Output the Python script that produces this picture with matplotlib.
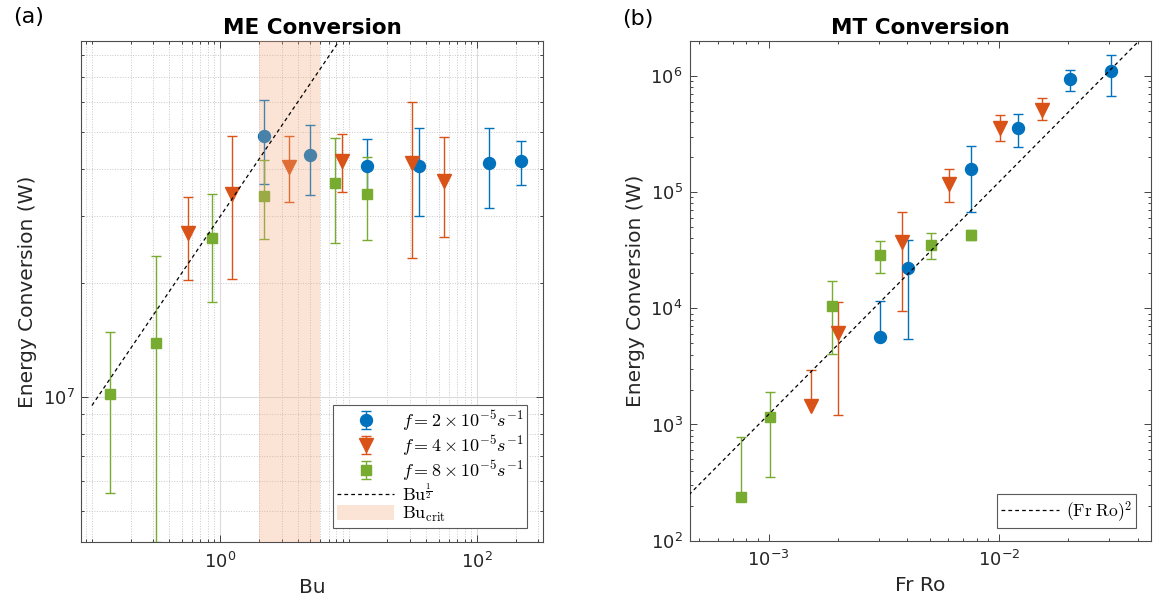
import numpy as np
import matplotlib
matplotlib.use("Agg")
import matplotlib.pyplot as plt
from matplotlib.font_manager import FontProperties
from matplotlib.ticker import FixedLocator, LogLocator, NullFormatter

# ---- panel (a): ME conversion vs Bu (value, lower bound, upper bound) ----
me_bu_f2 = [2.2, 4.98, 13.8, 35.3, 124, 220]
me_e_f2 = [4.87e7, 4.34e7, 4.07e7, 4.07e7, 4.14e7, 4.2e7]
me_lo_f2 = [3.65e7, 3.42e7, 3.38e7, 3.0e7, 3.15e7, 3.63e7]
me_hi_f2 = [6.07e7, 5.23e7, 4.79e7, 5.14e7, 5.12e7, 4.75e7]

me_bu_f4 = [0.557, 1.24, 3.45, 8.85, 31.1, 55.0]
me_e_f4 = [2.71e7, 3.43e7, 4.05e7, 4.19e7, 4.14e7, 3.71e7]
me_lo_f4 = [2.03e7, 2.05e7, 3.27e7, 3.47e7, 2.32e7, 2.64e7]
me_hi_f4 = [3.37e7, 4.89e7, 4.89e7, 4.94e7, 5.99e7, 4.86e7]

me_bu_f8 = [0.138, 0.314, 0.863, 2.2, 7.8, 13.8]
me_e_f8 = [1.02e7, 1.39e7, 2.62e7, 3.40e7, 3.66e7, 3.44e7]
me_lo_f8 = [5.58e6, 4.13e6, 1.78e7, 2.61e7, 2.55e7, 2.6e7]
me_hi_f8 = [1.48e7, 2.35e7, 3.43e7, 4.22e7, 4.81e7, 4.3e7]

bu_crit = [2.0, 6.0]
bu_fit_x = [0.1, 10.0]
bu_fit_coef = 3.0e7

# ---- panel (b): MT conversion vs Fr Ro (nan = no lower bar drawn) ----
mt_frro_f2 = [3.04e-3, 4.04e-3, 7.59e-3, 0.01214, 0.0203, 0.0307]
mt_e_f2 = [5.66e3, 2.21e4, 1.57e5, 3.58e5, 9.35e5, 1.11e6]
mt_lo_f2 = [np.nan, 5.45e3, 6.75e4, 2.44e5, 7.42e5, 6.76e5]
mt_hi_f2 = [1.15e4, 3.87e4, 2.51e5, 4.73e5, 1.13e6, 1.53e6]

mt_frro_f4 = [1.52e-3, 2.01e-3, 3.78e-3, 6.08e-3, 0.0101, 0.0153]
mt_e_f4 = [1.44e3, 6.1e3, 3.74e4, 1.17e5, 3.58e5, 5.12e5]
mt_lo_f4 = [np.nan, 1.21e3, 9.42e3, 8.17e4, 2.74e5, 4.15e5]
mt_hi_f4 = [2.96e3, 1.13e4, 6.74e4, 1.58e5, 4.6e5, 6.42e5]

mt_frro_f8 = [7.58e-4, 1.01e-3, 1.89e-3, 3.04e-3, 5.07e-3, 7.59e-3]
mt_e_f8 = [238, 1.15e3, 1.05e4, 2.88e4, 3.5e4, 4.28e4]
mt_lo_f8 = [np.nan, 353, 4.02e3, 2.02e4, 2.66e4, 3.87e4]
mt_hi_f8 = [785, 1.92e3, 1.72e4, 3.78e4, 4.42e4, 4.72e4]

frro_fit_x = [1e-4, 0.1]
frro_fit_coef = 1.22e9

labels_f = [r"$f = 2 \times 10^{-5} s^{-1}$",
            r"$f = 4 \times 10^{-5} s^{-1}$",
            r"$f = 8 \times 10^{-5} s^{-1}$"]

BLUE = "#0072BD"
ORANGE = "#D95319"
GREEN = "#77AC30"
AXCOL = "0.15"


def draw_series(ax, x, y, lo, hi, color, marker, ms, label):
    y = np.asarray(y, float)
    lo = np.asarray(lo, float)
    missing = np.isnan(lo)
    down = np.where(missing, 0.0, y - lo)
    up = np.asarray(hi, float) - y
    eb = ax.errorbar(x, y, yerr=[down, up], fmt=marker, color=color,
                     mfc=color, mec=color, ms=ms, lw=1.0, capsize=3.6,
                     capthick=1.0, label=label)
    if missing.any():
        # no lower bar in the original, so hide those lower caps
        lo_caps = eb[1][0]
        yd = np.array(lo_caps.get_ydata(), float)
        yd[missing] = np.nan
        lo_caps.set_ydata(yd)
    return eb


def style_axes(ax):
    ax.set_xscale("log")
    ax.set_yscale("log")
    ax.tick_params(which="both", direction="in", top=True, right=True,
                   colors=AXCOL, labelsize=13, width=0.6)
    ax.tick_params(which="major", length=5)
    ax.tick_params(which="minor", length=2.5)
    ax.tick_params(axis="x", pad=7)
    ax.tick_params(axis="y", pad=5)
    for sp in ax.spines.values():
        sp.set_color("0.3")
        sp.set_linewidth(0.8)
    ax.xaxis.set_minor_formatter(NullFormatter())
    ax.yaxis.set_minor_formatter(NullFormatter())


fig = plt.figure(figsize=(11.53, 6.11), dpi=100)
ax1 = fig.add_axes([0.0706, 0.1124, 0.4003, 0.8205])
ax2 = fig.add_axes([0.5981, 0.1151, 0.4002, 0.8178])

# ---------------- panel (a) ----------------
style_axes(ax1)
h1 = draw_series(ax1, me_bu_f2, me_e_f2, me_lo_f2, me_hi_f2, BLUE, "o", 8.6, labels_f[0])
h2 = draw_series(ax1, me_bu_f4, me_e_f4, me_lo_f4, me_hi_f4, ORANGE, "v", 9.5, labels_f[1])
h3 = draw_series(ax1, me_bu_f8, me_e_f8, me_lo_f8, me_hi_f8, GREEN, "s", 7.2, labels_f[2])
xf = np.logspace(np.log10(bu_fit_x[0]), np.log10(bu_fit_x[1]), 50)
h4, = ax1.plot(xf, bu_fit_coef * xf ** 0.5, color="k", lw=0.9,
               dashes=(3, 2.5), zorder=6, label=r"$\mathrm{Bu}^{\frac{1}{2}}$")
h5 = ax1.axvspan(bu_crit[0], bu_crit[1], color="#F2A87A", alpha=0.3, lw=0,
                 zorder=5, label=r"$\mathrm{Bu}_{\mathrm{crit}}$")

ax1.set_xlim(0.0828, 325)
ax1.set_ylim(4.13e6, 8.7e7)
ax1.xaxis.set_major_locator(FixedLocator([1, 100]))
ax1.xaxis.set_minor_locator(LogLocator(base=10, subs=np.arange(1, 10), numticks=30))
ax1.yaxis.set_major_locator(FixedLocator([1e7]))
ax1.yaxis.set_minor_locator(LogLocator(base=10, subs=np.arange(1, 10), numticks=30))
ax1.set_axisbelow(True)
ax1.grid(True, which="major", color="#dcdcdc", lw=0.8, ls="-")
ax1.grid(True, which="minor", color="#c8c8c8", lw=0.7, ls=":")

ax1.set_xlabel("Bu", fontsize=14.5, color=AXCOL, labelpad=4)
ax1.set_ylabel("Energy Conversion (W)", fontsize=14.5, color=AXCOL, labelpad=4)
ax1.set_title("ME Conversion", fontsize=15.5, fontweight="bold", pad=5)

leg_font = FontProperties(size=13, math_fontfamily="cm")
leg1 = ax1.legend([h1, h2, h3, h4, h5],
                  labels_f + [h4.get_label(), h5.get_label()],
                  loc="lower right", bbox_to_anchor=(0.965, 0.029),
                  borderaxespad=0, prop=leg_font, frameon=True,
                  fancybox=False, framealpha=1, edgecolor="0.35",
                  handlelength=3.2, handletextpad=0.4, labelspacing=0.02,
                  handleheight=0.9, borderpad=0.2)
leg1.get_frame().set_linewidth(0.8)
leg1.set_zorder(10)

# ---------------- panel (b) ----------------
style_axes(ax2)
draw_series(ax2, mt_frro_f2, mt_e_f2, mt_lo_f2, mt_hi_f2, BLUE, "o", 8.6, labels_f[0])
draw_series(ax2, mt_frro_f4, mt_e_f4, mt_lo_f4, mt_hi_f4, ORANGE, "v", 9.5, labels_f[1])
draw_series(ax2, mt_frro_f8, mt_e_f8, mt_lo_f8, mt_hi_f8, GREEN, "s", 7.2, labels_f[2])
xg = np.logspace(np.log10(frro_fit_x[0]), np.log10(frro_fit_x[1]), 50)
g4, = ax2.plot(xg, frro_fit_coef * xg ** 2, color="k", lw=0.9,
               dashes=(3, 2.5), zorder=6, label=r"$(\mathrm{Fr\ Ro})^2$")

ax2.set_xlim(4.54e-4, 4.57e-2)
ax2.set_ylim(100, 2e6)
ax2.xaxis.set_major_locator(LogLocator(base=10, numticks=10))
ax2.xaxis.set_minor_locator(LogLocator(base=10, subs=np.arange(2, 10), numticks=30))
ax2.yaxis.set_major_locator(LogLocator(base=10, numticks=10))
ax2.yaxis.set_minor_locator(LogLocator(base=10, subs=np.arange(2, 10), numticks=30))

ax2.set_xlabel("Fr Ro", fontsize=14.5, color=AXCOL, labelpad=4)
ax2.set_ylabel("Energy Conversion (W)", fontsize=14.5, color=AXCOL, labelpad=4)
ax2.set_title("MT Conversion", fontsize=15.5, fontweight="bold", pad=5)

leg2 = ax2.legend([g4], [g4.get_label()], loc="lower right",
                  bbox_to_anchor=(0.968, 0.0254), borderaxespad=0,
                  prop=FontProperties(size=12.5, math_fontfamily="cm"),
                  frameon=True, fancybox=False, framealpha=1,
                  edgecolor="0.35", handlelength=3.3, handletextpad=0.4,
                  borderpad=0.25)
leg2.get_frame().set_linewidth(0.8)
leg2.set_zorder(10)

fig.text(29 / 1153, 1 - 17 / 611, "(a)", fontsize=16, ha="center", va="center")
fig.text(638 / 1153, 1 - 19 / 611, "(b)", fontsize=16, ha="center", va="center")

fig.savefig("out.png", dpi=100)
plt.close(fig)
